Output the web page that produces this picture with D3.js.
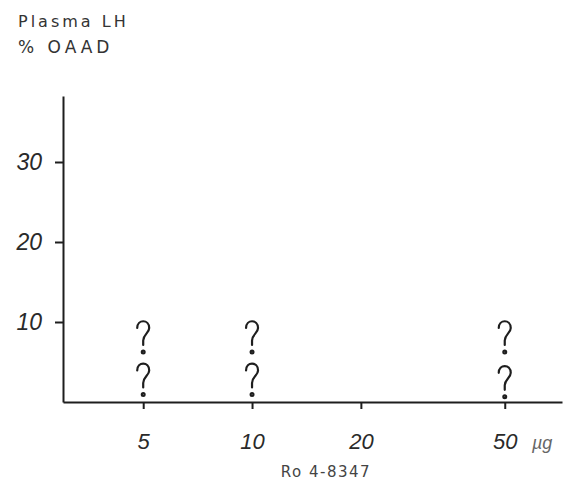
<!DOCTYPE html>
<html>
<head>
<meta charset="utf-8">
<script src="https://cdn.jsdelivr.net/npm/d3@7"></script>
<style>
  html, body { margin: 0; padding: 0; background: #fff; }
  svg { display: block; }
</style>
</head>
<body>
<svg id="chart" width="566" height="482"></svg>
<script>
// ---- data ----
const xTicks = [5, 10, 20, 50];
const yTicks = [10, 20, 30];
const doses = [5, 10, 50];
const upperValues = [8.0, 8.0, 8.0];
const lowerValues = [2.7, 2.7, 2.4];
const yTitleLines = ["Plasma LH", "% OAAD"];
const xTitle = "Ro 4-8347";
const xUnit = "\u00b5g";

// ---- layout ----
const svg = d3.select("#chart");
const x = d3.scaleLog().domain([3, 72]).range([63, 562]);
const y = d3.scaleLinear().domain([0, 38.25]).range([402, 96]);
const ink = "#1e1e1e";
const tickFont = "'Liberation Sans', Arial, sans-serif";

// y axis
const yAxis = d3.axisLeft(y).tickValues(yTicks).tickSize(8).tickSizeOuter(0).tickPadding(13)
  .tickFormat(d3.format("d"));
const gy = svg.append("g").attr("transform", `translate(${x.range()[0]},0)`).call(yAxis);
gy.select(".domain").attr("stroke", ink).attr("stroke-width", 2);
gy.selectAll(".tick line").attr("stroke", ink).attr("stroke-width", 2);
gy.selectAll(".tick text")
  .attr("fill", "#2a2a2a")
  .style("font-family", tickFont)
  .style("font-style", "italic")
  .style("font-size", "23px");

// x axis
const xAxis = d3.axisBottom(x).tickValues(xTicks).tickSize(7).tickSizeOuter(0).tickPadding(24)
  .tickFormat(d3.format("d"));
const gx = svg.append("g").attr("transform", `translate(0,${y(0)})`).call(xAxis);
gx.select(".domain").attr("stroke", ink).attr("stroke-width", 2);
gx.selectAll(".tick line").attr("stroke", ink).attr("stroke-width", 2);
gx.selectAll(".tick text")
  .attr("fill", "#2a2a2a")
  .style("font-family", tickFont)
  .style("font-style", "italic")
  .style("font-size", "22px");

// unit label
svg.append("text")
  .attr("x", 532).attr("y", 449)
  .attr("fill", "#666")
  .style("font-family", tickFont)
  .style("font-style", "italic")
  .style("font-size", "18px")
  .text(xUnit);

// x title
svg.append("text")
  .attr("x", 326).attr("y", 477)
  .attr("text-anchor", "middle")
  .attr("fill", "#444")
  .style("font-family", "'DejaVu Sans', sans-serif")
  .style("font-size", "15px")
  .style("letter-spacing", "1.5px")
  .text(xTitle);

// y title (two lines)
svg.selectAll(".ytitle").data(yTitleLines).join("text")
  .attr("class", "ytitle")
  .attr("x", 18)
  .attr("y", (d, i) => 27 + i * 26)
  .attr("fill", "#333")
  .style("font-family", "'DejaVu Sans', sans-serif")
  .style("font-size", (d, i) => i === 0 ? "16px" : "17px")
  .style("letter-spacing", (d, i) => i === 0 ? "3px" : "4px")
  .text(d => d);

// custom question-mark point symbol
const questionMark = {
  draw(ctx) {
    ctx.moveTo(-6, -10);
    ctx.bezierCurveTo(-6, -19, 6, -19, 6, -10);
    ctx.bezierCurveTo(6, -5, 0, -3.5, 0, 2.5);
    ctx.lineTo(0, 7);
    ctx.moveTo(1.4, 14);
    ctx.arc(0, 14, 1.4, 0, 2 * Math.PI);
  }
};
const sym = d3.symbol().type(questionMark);

const pts = [];
doses.forEach((d, i) => {
  pts.push({ dose: d, v: upperValues[i] });
  pts.push({ dose: d, v: lowerValues[i] });
});
svg.selectAll(".qm").data(pts).join("path")
  .attr("class", "qm")
  .attr("transform", d => `translate(${x(d.dose)},${y(d.v)})`)
  .attr("d", sym)
  .attr("fill", "none")
  .attr("stroke", ink)
  .attr("stroke-width", 2.2)
  .attr("stroke-linecap", "round");
</script>
</body>
</html>
